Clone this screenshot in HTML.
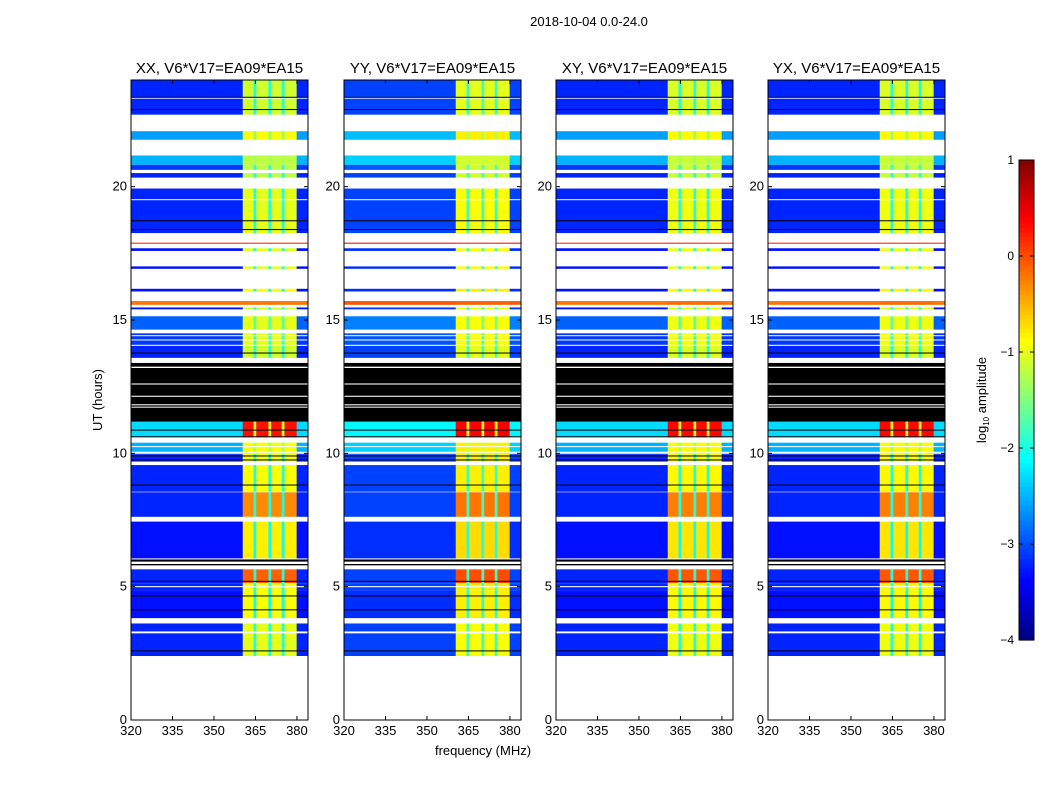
<!DOCTYPE html>
<html><head><meta charset="utf-8">
<style>
html,body{margin:0;padding:0;background:#fff;}
svg{display:block;font-family:"Liberation Sans","DejaVu Sans",sans-serif;}
</style></head>
<body>
<svg id="fig" width="1050" height="800" xmlns="http://www.w3.org/2000/svg">
<text x="589" y="26" font-size="13" text-anchor="middle">2018-10-04 0.0-24.0</text>
<text x="0" y="0" font-size="13" text-anchor="middle" transform="translate(102,400) rotate(-90)">UT (hours)</text>
<text x="483" y="755" font-size="13" text-anchor="middle">frequency (MHz)</text>
<text x="0" y="0" font-size="13" text-anchor="middle" transform="translate(986,400) rotate(-90)">log<tspan font-size="8" dy="3">10</tspan><tspan dy="-3"> amplitude</tspan></text>
<g id="panels"></g>
<g id="cbar"></g>
</svg>
<script>
// ---- data ----
const panelTitles = ["XX, V6*V17=EA09*EA15","YY, V6*V17=EA09*EA15","XY, V6*V17=EA09*EA15","YX, V6*V17=EA09*EA15"];
const panelBandOffset = [0, 0.1, 0.05, 0.05];
const panelBgOffset = [0, 0.15, 0, 0];
// data rows: start hour, end hour, background log amp, band log amp
const rowStart = [23.35,22.89,22.70,21.76,20.82,20.63,20.34,18.26,17.86,17.59,16.92,16.07,15.57,15.40,14.64,14.07,13.58,10.60,10.06,9.97,9.69,8.56,7.62,6.06,5.13,4.86,3.82,3.32,2.40];
const rowEnd   = [24.00,23.30,22.89,22.08,21.17,20.82,20.51,19.93,17.90,17.69,17.01,16.17,15.71,15.47,15.14,14.50,14.03,11.19,10.40,10.02,9.97,9.56,8.54,7.44,5.65,5.13,4.86,3.62,3.25];
const rowBg    = [-3.2,-3.2,-3.2,-2.6,-2.5,-3.1,-3.2,-3.2,0.2,-3.3,-3.3,-3.3,-0.2,-3.3,-2.9,-3.1,-3.2,-2.3,-2.5,-1.3,-3.2,-3.2,-3.2,-3.3,-3.2,-3.2,-3.3,-3.2,-3.2];
const rowBand  = [-1.1,-1.1,-1.1,-0.9,-1.2,-1.2,-1.2,-1.0,0.2,-1.0,-1.0,-0.9,-0.2,-1.1,-1.0,-1.0,-1.1,0.3,-0.9,-0.9,-0.9,-0.9,-0.3,-0.8,-0.1,-0.9,-0.9,-1.0,-1.0];
// black (flagged) rows
const blackStart = [11.19,10.86,10.61,9.89,9.74,8.80,5.94,5.80,5.19,4.64,4.12,2.58,18.71,18.38,23.34,22.88,13.75];
const blackEnd   = [13.39,10.89,10.64,9.92,9.77,8.83,6.02,5.85,5.22,4.67,4.15,2.61,18.74,18.41,23.37,22.91,13.78];
// white gaps drawn on top
const whiteStart = [13.20,12.58,12.12,11.80,14.40,14.24,19.50,10.24,4.98,3.29,11.72];
const whiteEnd   = [13.25,12.62,12.16,11.84,14.43,14.27,19.53,10.27,5.02,3.32,11.75];
// frequency columns (MHz) and role
const colEdges = [320,360.4,364.3,365.3,369.7,370.7,374.5,375.5,379.9,384];
const colRole  = ["bg","band","gap","band","gap","band","gap","band","bg"];
const xTicks = [320,335,350,365,380];
const yTicks = [0,5,10,15,20];
const cbTicks = [1,0,-1,-2,-3,-4];

// ---- helpers ----
const NS="http://www.w3.org/2000/svg";
function mk(tag,attrs,parent){const e=document.createElementNS(NS,tag);for(const k in attrs)e.setAttribute(k,attrs[k]);parent.appendChild(e);return e;}
function jet(v){ // v in [-4,1]
  let t=Math.max(0,Math.min(1,(v+4)/5));
  const r=Math.max(0,Math.min(1,1.5-Math.abs(4*t-3)));
  const g=Math.max(0,Math.min(1,1.5-Math.abs(4*t-2)));
  const b=Math.max(0,Math.min(1,1.5-Math.abs(4*t-1)));
  return `rgb(${Math.round(r*255)},${Math.round(g*255)},${Math.round(b*255)})`;
}
const panelX=[131,344,556,768], PW=177, PT=80, PB=720;
const fmin=320,fmax=384,hmin=0,hmax=24;
const panels=document.getElementById('panels');
panelX.forEach((x0,p)=>{
  const xs=f=>x0+(f-fmin)/(fmax-fmin)*PW;
  const ys=h=>PB-(h-hmin)/(hmax-hmin)*(PB-PT);
  const g=mk('g',{},panels);
  
  
  rowStart.forEach((h0,i)=>{
    for(let c=0;c<colRole.length;c++){
      const bg=rowBg[i]+panelBgOffset[p], band=rowBand[i]+panelBandOffset[p];
      const v = colRole[c]==="bg"?bg:(colRole[c]==="band"?band:Math.min(bg+1.2,band));
      const r=mk('rect',{x:xs(colEdges[c]),y:ys(rowEnd[i]),width:xs(colEdges[c+1])-xs(colEdges[c])+0.3,height:Math.max(0.8,ys(h0)-ys(rowEnd[i])),fill:jet(v)},g);
      
      
    }
  });
  blackStart.forEach((h0,i)=>{
    const a=Math.min(h0,blackEnd[i]),b=Math.max(h0,blackEnd[i]);
    const r=mk('rect',{x:x0,y:ys(b),width:PW,height:Math.max(1,ys(a)-ys(b)),fill:'#000'},g);
    
    
  });
  whiteStart.forEach((h0,i)=>{
    const r=mk('rect',{x:x0,y:ys(whiteEnd[i]),width:PW,height:Math.max(1,ys(h0)-ys(whiteEnd[i])),fill:'#fff'},g);
    
    
  });
  const fr=mk('rect',{x:x0,y:PT,width:PW,height:PB-PT,fill:'none',stroke:'#000','stroke-width':1},g);
  
  
  const t=mk('text',{x:x0+PW/2,y:PT-7,'font-size':15,'text-anchor':'middle'},g);
  t.textContent=panelTitles[p];
  
  
  xTicks.forEach(v=>{
    const X=xs(v);
    mk('line',{x1:X,x2:X,y1:PB,y2:PB-4,stroke:'#000'},g);
    mk('line',{x1:X,x2:X,y1:PT,y2:PT+4,stroke:'#000'},g);
    const l=mk('text',{x:X,y:PB+15,'font-size':13,'text-anchor':'middle'},g);
    l.textContent=v;
    
    
  });
  yTicks.forEach(v=>{
    const Y=ys(v);
    mk('line',{x1:x0,x2:x0+4,y1:Y,y2:Y,stroke:'#000'},g);
    mk('line',{x1:x0+PW,x2:x0+PW-4,y1:Y,y2:Y,stroke:'#000'},g);
    const l=mk('text',{x:x0-4,y:Y+4,'font-size':13,'text-anchor':'end'},g);
    l.textContent=v;
    
    
  });
});
// colorbar
const cb=document.getElementById('cbar');


const CX=1019,CW=15,CT=160,CB=640;
const cys=v=>CB-(v+4)/5*(CB-CT);
for(let k=0;k<100;k++){
  const v0=-4+k*0.05;
  mk('rect',{x:CX,y:cys(v0+0.05),width:CW,height:(CB-CT)/100+0.6,fill:jet(v0+0.025)},cb);
}
mk('rect',{x:CX,y:CT,width:CW,height:CB-CT,fill:'none',stroke:'#000'},cb);
cbTicks.forEach(v=>{
  const Y=cys(v);
  mk('line',{x1:CX,x2:CX+4,y1:Y,y2:Y,stroke:'#000'},cb);
  mk('line',{x1:CX+CW,x2:CX+CW-4,y1:Y,y2:Y,stroke:'#000'},cb);
  const l=mk('text',{x:CX-5,y:Y+4,'font-size':12,'text-anchor':'end'},cb);
  l.textContent=v<0?'\u2212'+(-v):v;
  
  
});
</script>
</body></html>
